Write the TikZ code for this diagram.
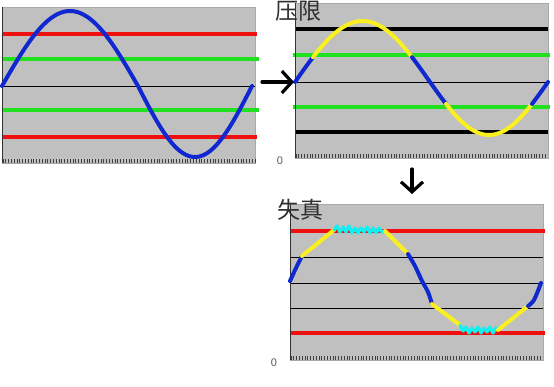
\documentclass[tikz,border=0pt]{standalone}
\usepackage{fontspec}
\newfontfamily\cjk{Noto Sans CJK SC}
\newfontfamily\zerofont{Liberation Sans}
\usetikzlibrary{arrows.meta}
\definecolor{panelgray}{HTML}{C0C0C0}
\definecolor{edgegray}{HTML}{A8A8A8}
\definecolor{cred}{HTML}{F01010}
\definecolor{cgreen}{HTML}{20E020}
\definecolor{cblue}{HTML}{1028D0}
\definecolor{cyellow}{HTML}{FAF020}
\definecolor{ccyan}{HTML}{10F0F0}
\definecolor{titlec}{HTML}{303030}
\tikzset{
  panel/.style={draw=edgegray, line width=0.6pt, fill=panelgray, inner sep=0pt, outer sep=0pt},
  redline/.style={cred, line width=3.4pt},
  greenline/.style={cgreen, line width=3.4pt},
  blackline/.style={black, line width=3.4pt},
  midline/.style={black, line width=0.9pt},
  axis/.style={black!80, line width=1pt},
  tick/.style={black!75, line width=0.9pt},
  bluec/.style={cblue, line width=4pt, line cap=round, line join=round},
  yellowc/.style={cyellow, line width=4pt, line cap=round, line join=round},
  cyanc/.style={ccyan, line width=3.2pt, line cap=round, line join=round},
  hand/.style={black, line width=3.2pt, line cap=round, line join=round},
  titletext/.style={text=titlec, font=\cjk\fontsize{23}{23}\selectfont, inner sep=0pt, anchor=north west},
  zerotext/.style={text=black!65, font=\zerofont\fontsize{11}{11}\selectfont, inner sep=0pt}
}
\begin{document}
\begin{tikzpicture}[x=1pt,y=-1pt]
\useasboundingbox (0,0) rectangle (554,386);
\fill[white] (0,0) rectangle (554,386);

% ---------------- Panel 1 ----------------
\node[panel, minimum width=253pt, minimum height=156pt, anchor=north west] (p1) at (2,7) {};
\draw[midline] (2,86) -- (255,86);
\draw[redline] (2,34) -- (257,34);
\draw[redline] (2,137) -- (257,137);
\draw[greenline] (2,59) -- (259,59);
\draw[greenline] (2,110) -- (259,110);
\foreach \t in {0,...,90} \draw[tick] ({3+\t*2.8},159) -- ({3+\t*2.8},163);
\draw[axis] (p1.south west) -- (p1.north west);
\draw[bluec] plot[domain=2:138, samples=70] (\x, {86-75*sin((\x-2)/136*180)})
  -- plot[domain=138:252, samples=60] (\x, {86+71*sin((\x-138)/114*180)});

% ---------------- Panel 2 ----------------
\node[panel, minimum width=253pt, minimum height=155pt, anchor=north west] (p2) at (295,3) {};
\draw[midline] (295,82) -- (548,82);
\draw[blackline] (295,29) -- (548,29);
\draw[blackline] (295,132) -- (548,132);
\draw[greenline] (293,55) -- (550,55);
\draw[greenline] (293,107) -- (550,107);
\foreach \t in {0,...,89} \draw[tick] ({296+\t*2.8},154) -- ({296+\t*2.8},158);
\draw[axis] (p2.south west) -- (p2.north west);
\draw[bluec] plot[domain=295:313, samples=10] (\x, {82-61*sin((\x-295)/135*180)});
\draw[yellowc] plot[domain=313:412, samples=60] (\x, {82-61*sin((\x-295)/135*180)});
\draw[bluec] plot[domain=412:430, samples=10] (\x, {82-61*sin((\x-295)/135*180)})
  -- plot[domain=430:446, samples=10] (\x, {82+53*sin((\x-430)/118*180)});
\draw[yellowc] plot[domain=446:532, samples=50] (\x, {82+53*sin((\x-430)/118*180)});
\draw[bluec] plot[domain=532:548, samples=10] (\x, {82+53*sin((\x-430)/118*180)});
\node[titletext] (t2) at (275,1) {压限};
\node[zerotext] (z2) at (280,161) {0};

% ---------------- Panel 3 ----------------
\node[panel, minimum width=253pt, minimum height=156pt, anchor=north west] (p3) at (290,204) {};
\draw[midline] (290,257) -- (543,257);
\draw[midline] (290,283) -- (543,283);
\draw[midline] (290,308) -- (543,308);
\draw[redline] (290,231) -- (545,231);
\draw[redline] (290,333) -- (545,333);
\foreach \t in {0,...,89} \draw[tick] ({291+\t*2.8},356) -- ({291+\t*2.8},360);
\draw[axis] (p3.south west) -- (p3.north west);
\draw[bluec] plot[smooth] coordinates {(290,281) (296,268) (302,256)};
\draw[yellowc] (302,256) -- (334,230);
\draw[cyanc] (334,230) -- (337,226) -- (340,232) -- (343,227) -- (346,232) -- (349,226) -- (352,233)
  -- (355,228) -- (358,233) -- (361,228) -- (364,232) -- (367,227) -- (370,233) -- (373,228)
  -- (376,233) -- (379,228) -- (382,232) -- (385,231);
\draw[yellowc] (385,231) -- (408,254);
\draw[bluec] plot[smooth] coordinates {(408,254) (415,266) (422,281) (428,292) (432,304)};
\draw[yellowc] (432,304) -- (460,325);
\draw[cyanc] (460,325) -- (463,331) -- (466,327) -- (469,333) -- (472,328) -- (475,332) -- (478,327)
  -- (481,333) -- (484,328) -- (487,332) -- (490,327) -- (493,333) -- (496,328) -- (498,330);
\draw[yellowc] (498,330) -- (528,306);
\draw[bluec] plot[smooth] coordinates {(528,306) (534,300) (541,283)};
\node[titletext] (t3) at (277,199) {失真};
\node[zerotext] (z3) at (274,363) {0};

% ---------------- Arrows ----------------
\coordinate (a1s) at (262,82);
\coordinate (a1e) at ([xshift=-1pt]p2.west |- 0,82);
\draw[hand, -{Straight Barb[length=10pt,width=22pt,line width=3.2pt]}] (a1s) -- (a1e);
\coordinate (a2s) at (412,169);
\coordinate (a2e) at (412,194);
\draw[hand, -{Straight Barb[length=10pt,width=22pt,line width=3.2pt]}] (a2s) -- (a2e);
\end{tikzpicture}
\end{document}
